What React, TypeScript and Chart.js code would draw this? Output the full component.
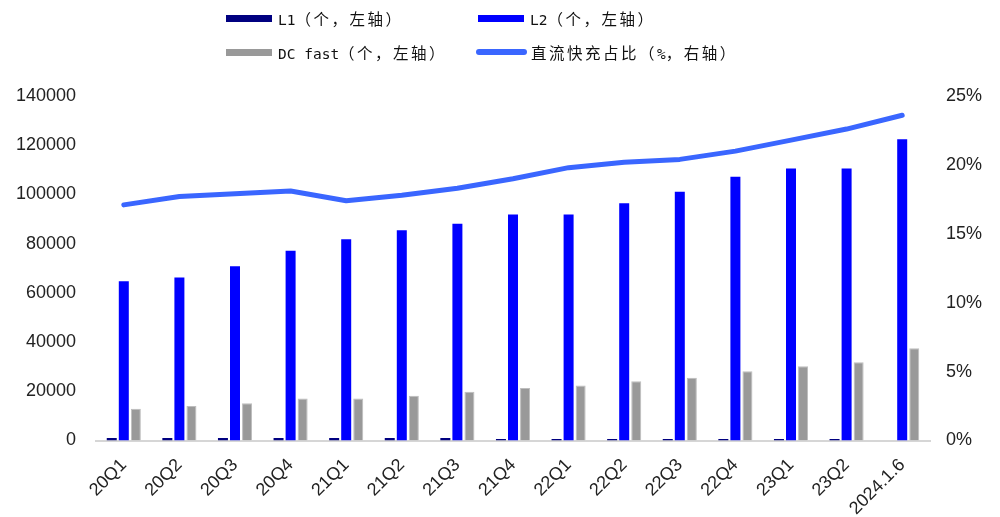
import React, { useEffect, useRef } from "react";
import { Chart, registerables } from "chart.js";

Chart.register(...registerables);

const categories = ["20Q1", "20Q2", "20Q3", "20Q4", "21Q1", "21Q2", "21Q3", "21Q4", "22Q1", "22Q2", "22Q3", "22Q4", "23Q1", "23Q2", "2024.1.6"];
const l1Values: (number | null)[] = [1000, 1000, 1000, 1000, 1000, 1000, 1000, 600, 600, 600, 600, 600, 600, 600, null];
const l2Values = [64700, 66200, 70800, 77100, 81800, 85400, 88100, 91800, 91800, 96400, 101100, 107200, 110500, 110500, 122400];
const dcFastValues = [12900, 14000, 15100, 17100, 17100, 18200, 19800, 21300, 22400, 24100, 25500, 28100, 30200, 31800, 37500];
const dcShareValues = [17.1, 17.7, 17.9, 18.1, 17.4, 17.8, 18.3, 19.0, 19.8, 20.2, 20.4, 21.0, 21.8, 22.6, 23.6];

const seriesNames = ["L1（个，左轴）", "L2（个，左轴）", "DC fast（个，左轴）", "直流快充占比（%，右轴）"];
const leftMax = 140000;
const leftStep = 20000;
const rightMax = 25;
const rightStep = 5;

const COLOR_L1 = "#000080";
const COLOR_L2 = "#0000ff";
const COLOR_DC = "#999999";
const COLOR_LINE = "#3a66ff";

const AXIS_FONT = "'Liberation Sans', Arial, sans-serif";

function LegendText({ text }: { text: string }) {
  const runs: { s: string; ascii: boolean }[] = [];
  for (const ch of text) {
    const ascii = ch.charCodeAt(0) < 128;
    const last = runs[runs.length - 1];
    if (last && last.ascii === ascii) last.s += ch;
    else runs.push({ s: ch, ascii });
  }
  return (
    <span style={{ whiteSpace: "pre", color: "#111" }}>
      {runs.map((r, i) =>
        r.ascii ? (
          <span key={i} style={{ fontFamily: "'DejaVu Sans Mono', 'Liberation Mono', monospace", fontSize: 14.5 }}>{r.s}</span>
        ) : (
          <span key={i} style={{ fontFamily: "'Noto Sans CJK SC', sans-serif", fontSize: 15.5, letterSpacing: 2.5 }}>{r.s}</span>
        )
      )}
    </span>
  );
}

function LegendItem({ x, y, kind, color, label }: { x: number; y: number; kind: "box" | "line"; color: string; label: string }) {
  return (
    <div style={{ position: "absolute", left: x, top: y - 12, height: 24, display: "flex", alignItems: "center" }}>
      {kind === "box" ? (
        <div style={{ width: 46, height: 7, background: color, marginRight: 6 }} />
      ) : (
        <div style={{ width: 51, height: 6, borderRadius: 3, background: color, marginRight: 4 }} />
      )}
      <LegendText text={label} />
    </div>
  );
}

export default function App() {
  const canvasRef = useRef<HTMLCanvasElement | null>(null);

  useEffect(() => {
    const canvas = canvasRef.current;
    if (!canvas) return;
    const chart = new Chart(canvas, {
      type: "bar",
      data: {
        labels: categories,
        datasets: [
          {
            type: "line",
            label: seriesNames[3],
            data: dcShareValues,
            yAxisID: "y1",
            borderColor: COLOR_LINE,
            backgroundColor: COLOR_LINE,
            borderWidth: 5,
            pointRadius: 0,
            tension: 0,
            borderCapStyle: "round",
            borderJoinStyle: "round",
            order: 0,
          } as any,
          {
            type: "bar",
            label: seriesNames[0],
            data: l1Values,
            yAxisID: "y",
            backgroundColor: COLOR_L1,
            order: 1,
          },
          {
            type: "bar",
            label: seriesNames[1],
            data: l2Values,
            yAxisID: "y",
            backgroundColor: COLOR_L2,
            order: 1,
          },
          {
            type: "bar",
            label: seriesNames[2],
            data: dcFastValues,
            yAxisID: "y",
            backgroundColor: COLOR_DC,
            borderColor: "#bdbdbd",
            borderWidth: 1,
            order: 1,
          },
        ],
      },
      options: {
        responsive: false,
        animation: false,
        devicePixelRatio: 1,
        datasets: {
          bar: { categoryPercentage: 0.65, barPercentage: 0.83 },
        },
        layout: { padding: { top: 96, bottom: 0, left: 0, right: 0 } },
        plugins: {
          legend: { display: false },
          tooltip: { enabled: false },
        },
        scales: {
          x: {
            grid: { display: false, drawTicks: false },
            border: { display: true, color: "#d6d6d6", width: 2 },
            ticks: {
              font: { family: AXIS_FONT, size: 18 },
              color: "#222",
              minRotation: 45,
              maxRotation: 45,
              autoSkip: false,
              padding: 14,
            },
            afterFit: (s: any) => {
              s.height = 76.5;
            },
          },
          y: {
            position: "left",
            min: 0,
            max: leftMax,
            grid: { display: false, drawTicks: false },
            border: { display: false },
            ticks: {
              stepSize: leftStep,
              padding: 20,
              font: { family: AXIS_FONT, size: 18 },
              color: "#222",
              callback: (v: any) => String(v),
            },
            afterFit: (s: any) => {
              s.width = 96;
            },
          },
          y1: {
            position: "right",
            min: 0,
            max: rightMax,
            grid: { display: false, drawTicks: false },
            border: { display: false },
            ticks: {
              stepSize: rightStep,
              padding: 16,
              font: { family: AXIS_FONT, size: 18 },
              color: "#222",
              callback: (v: any) => v + "%",
            },
            afterFit: (s: any) => {
              s.width = 70;
            },
          },
        },
      },
    });
    return () => chart.destroy();
  }, []);

  return (
    <div style={{ position: "fixed", left: 0, top: 0, width: 1000, height: 517, background: "#fff", overflow: "hidden" }}>
      <canvas ref={canvasRef} width={1000} height={517} style={{ display: "block", width: 1000, height: 517 }} />
      <LegendItem x={226} y={18} kind="box" color={COLOR_L1} label={seriesNames[0]} />
      <LegendItem x={478} y={18} kind="box" color={COLOR_L2} label={seriesNames[1]} />
      <LegendItem x={226} y={52} kind="box" color={COLOR_DC} label={seriesNames[2]} />
      <LegendItem x={476} y={52} kind="line" color={COLOR_LINE} label={seriesNames[3]} />
    </div>
  );
}
